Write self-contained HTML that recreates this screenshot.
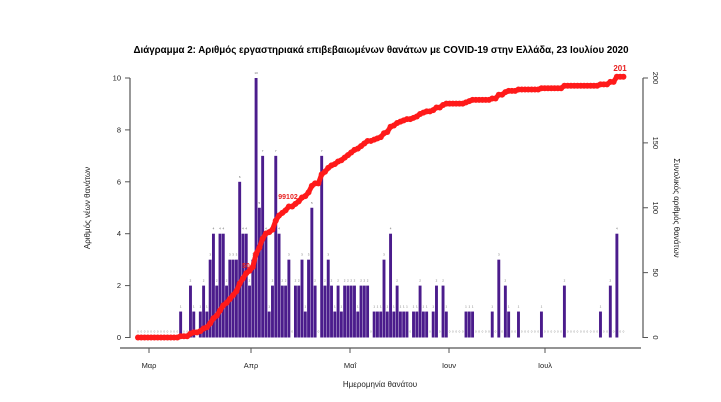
<!DOCTYPE html>
<html><head><meta charset="utf-8"><style>
html,body{margin:0;padding:0;background:#fff;}
svg{display:block;font-family:"Liberation Sans","DejaVu Sans",sans-serif;}
</style></head><body>
<svg id="s" width="721" height="402" viewBox="0 0 721 402" xmlns="http://www.w3.org/2000/svg">
<text x="381" y="53" text-anchor="middle" font-size="10.5" font-weight="bold" fill="#000" textLength="495" lengthAdjust="spacingAndGlyphs">Διάγραμμα 2: Αριθμός εργαστηριακά επιβεβαιωμένων θανάτων με COVID-19 στην Ελλάδα, 23 Ιουλίου 2020</text>
<g stroke="#555" stroke-width="1.2" fill="none">
<line x1="130" y1="78" x2="130" y2="338"/>
<line x1="120" y1="348" x2="641" y2="348"/>
<line x1="643" y1="78" x2="643" y2="338"/>
</g>
<g id="ax" font-size="7.5" fill="#222"></g>
<text x="380" y="387" text-anchor="middle" font-size="8" fill="#222">Ημερομηνία θανάτου</text>
<text transform="translate(90,208) rotate(-90)" text-anchor="middle" font-size="8" fill="#222">Αριθμός νέων θανάτων</text>
<text transform="translate(674,208) rotate(90)" text-anchor="middle" font-size="8" fill="#222">Συνολικός αριθμός θανάτων</text>
<g id="bars"></g>
<g id="line"></g>
<text x="620" y="71" text-anchor="middle" font-size="8" font-weight="bold" fill="#e82020">201</text>
<text x="288" y="199" text-anchor="middle" font-size="7" font-weight="bold" fill="#e82020">99102</text>
<text x="246" y="268" text-anchor="middle" font-size="7" font-weight="bold" fill="#e82020">50</text>
</svg>
<script>
var NS="http://www.w3.org/2000/svg";
function el(p,t,a,txt){var e=document.createElementNS(NS,t);for(var k in a)e.setAttribute(k,a[k]);if(txt!=null)e.textContent=txt;p.appendChild(e);return e;}
var ax=document.getElementById('ax');
var y0=337.5,u=25.95;
for(var v=0;v<=10;v+=2){var y=y0-v*u;el(ax,'line',{x1:125,x2:130,y1:y,y2:y,stroke:'#555'});el(ax,'text',{x:121,y:y+2.5,'text-anchor':'end'},v);}
for(var v=0;v<=200;v+=50){var y=y0-v*u/20;el(ax,'line',{x1:643,x2:648,y1:y,y2:y,stroke:'#555'});el(ax,'text',{transform:'translate(653,'+y+') rotate(90)','text-anchor':'middle'},v);}
var mt=[[149,'Μαρ'],[251,'Απρ'],[350,'Μαΐ'],[449,'Ιουν'],[545,'Ιουλ']];
mt.forEach(function(m){el(ax,'line',{x1:m[0],x2:m[0],y1:348,y2:353,stroke:'#555'});el(ax,'text',{x:m[0],y:368,'text-anchor':'middle'},m[1]);});
var N=149,d=new Array(N).fill(0);
d[13]=1;
var early=[2,1,0,1,2,1,3,4,2,4,4,2,3,3,3,6,4,4,2,3,10,5,7,4,1,2,7,4,2,2,3,0,2,2,3,1,3,5,2,0,7,2,3,2,1,2,1,2];
early.forEach(function(v,i){d[16+i]=v;});
var late={64:2,65:2,66:2,67:1,68:2,69:2,70:2,71:0,72:1,73:1,74:1,75:3,76:1,77:4,78:1,79:2,80:1,81:1,82:1,83:0,84:1,85:1,86:2,87:1,88:1,89:0,90:1,91:2,92:0,93:2,94:1,100:1,101:1,102:1,108:1,110:3,112:2,113:1,116:1,123:1,130:2,141:1,144:2,146:4};
for(var k in late)d[+k]=late[k];
var bars=document.getElementById('bars');
var px=3.28,x0=138;
for(var i=0;i<N;i++){var cx=x0+i*px;
 if(d[i]>0){el(bars,'rect',{x:cx-1.45,y:y0-d[i]*u,width:2.9,height:d[i]*u,fill:'#4b1c8c'});
  el(bars,'text',{x:cx,y:y0-d[i]*u-4,'font-size':3,'text-anchor':'middle',fill:'#666'},d[i]);}
 else el(bars,'text',{x:cx,y:y0-5,'font-size':3,'text-anchor':'middle',fill:'#888'},'0');
}
var tot=0;d.forEach(function(v){tot+=v;});
var line=document.getElementById('line'),c=0,pts=[];
for(var i=0;i<N;i++){c+=d[i];var cv=c*201/tot;pts.push((x0+i*px)+','+(y0-cv*u/20));}
el(line,'polyline',{points:pts.join(' '),fill:'none',stroke:'#ff1a1a','stroke-width':5,'stroke-linejoin':'round'});
pts.forEach(function(p){var a=p.split(',');el(line,'circle',{cx:a[0],cy:a[1],r:3,fill:'#ff1a1a'});});
</script>
</body></html>
